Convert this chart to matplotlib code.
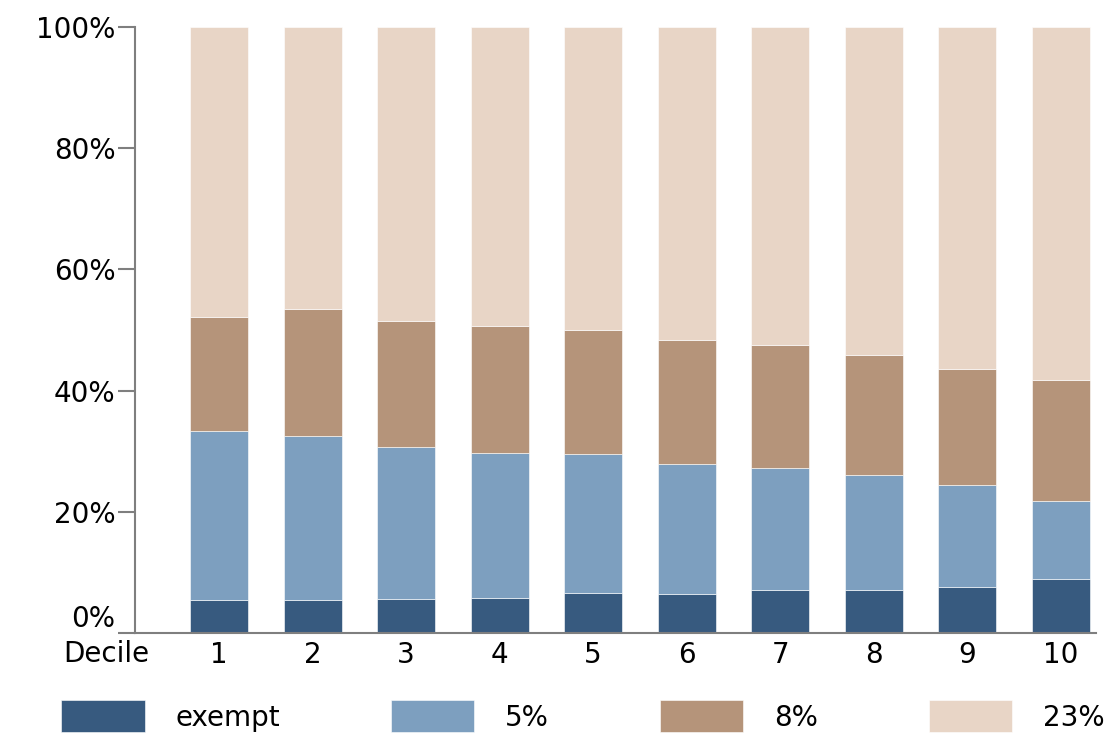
import matplotlib
matplotlib.use("Agg")
import matplotlib.pyplot as plt
import numpy as np
from matplotlib.ticker import PercentFormatter

# data (share of each band, percent)
deciles = ["1", "2", "3", "4", "5", "6", "7", "8", "9", "10"]
exempt = [5.4, 5.4, 5.6, 5.8, 6.6, 6.4, 7.1, 7.1, 7.6, 8.9]
rate5 = [27.9, 27.1, 25.1, 23.9, 22.9, 21.5, 20.1, 19.0, 16.8, 12.9]
rate8 = [18.8, 21.0, 20.8, 21.0, 20.5, 20.4, 20.3, 19.8, 19.2, 19.9]
rate23 = [100 - a - b - c for a, b, c in zip(exempt, rate5, rate8)]

series = [("exempt", exempt, "#375a7f"),
          ("5%", rate5, "#7d9fbf"),
          ("8%", rate8, "#b5947a"),
          ("23%", rate23, "#e8d5c6")]

plt.rcParams["font.family"] = ["DejaVu Sans"]

fig = plt.figure(figsize=(11.1, 7.34), dpi=100)
ax = fig.add_axes([0.1216, 0.1376, 0.866, 0.8255])

x = np.arange(1, len(deciles) + 1)
bottom = np.zeros(len(deciles))
for name, vals, col in series:
    ax.bar(x, vals, width=0.62, bottom=bottom, color=col, label=name,
           edgecolor="white", linewidth=0.4)
    bottom += np.array(vals)

ax.set_xlim(0.1, 10.38)
ax.set_ylim(0, 100)
ax.set_yticks(np.arange(0, 101, 20))
ax.yaxis.set_major_formatter(PercentFormatter(decimals=0))
ax.set_xticks(x)
ax.set_xticklabels(deciles)

for s in ["top", "right"]:
    ax.spines[s].set_visible(False)
for s in ["left", "bottom"]:
    ax.spines[s].set_color("#7f7f7f")
    ax.spines[s].set_linewidth(1.5)

ax.tick_params(axis="y", length=12, width=1.5, color="#7f7f7f",
               labelsize=20, pad=2)
ax.tick_params(axis="x", length=0, labelsize=20, pad=6)

# the 0% label sits on top of the baseline in the original
fig.canvas.draw()
ax.get_yticklabels()[0].set_verticalalignment("bottom")

ax.text(0.015, -0.012, "Decile", transform=ax.transAxes, ha="right",
        va="top", fontsize=20)

fig.legend(loc="upper center", bbox_to_anchor=(0.525, 0.08), ncol=4,
           frameon=False, fontsize=20, handlelength=3.0, handleheight=1.4,
           handletextpad=1.1, columnspacing=4.0)

fig.savefig("out.png", dpi=100)
